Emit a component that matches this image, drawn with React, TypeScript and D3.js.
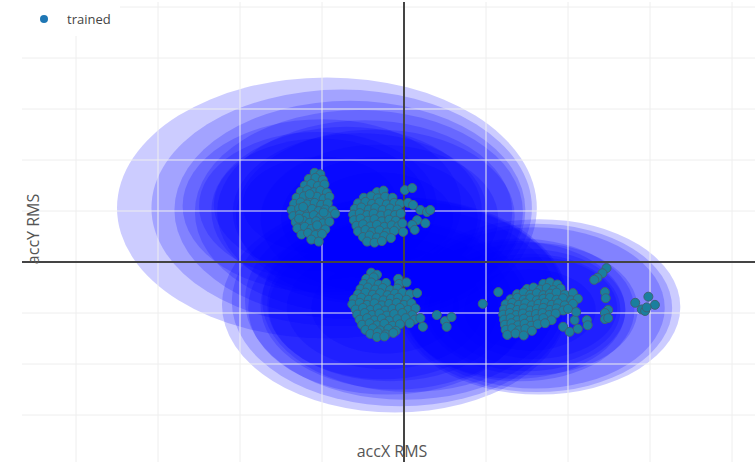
import React from "react";
import * as d3 from "d3";

const width = 755;
const height = 462;
const plotLeft = 22;
const plotTop = 2;

// grid ticks (no labels shown on the chart)
const xTicks = [-4, -3, -2, -1, 1, 2, 3, 4];
const yTicks = [-3, -2, -1, 1, 2, 3, 4, 5];

// k-means cluster centres and their max-distance radius
const clusterX = [-0.94, -0.76, -0.66, -0.55, -0.48, -0.54, -1.02, -0.3, -1.02, -0.3,
  -1.0, -0.35, -0.7, -1.05, -0.3,
  -0.11, -0.05, 0.01, 0.07, -0.17, -0.23, -0.23,
  -0.2, -0.1, -0.25,
  1.65, 1.62, 1.6, 1.41, 1.35, 1.54, 1.54,
  1.55, 1.5, 1.6];
const clusterY = [1.06, 1.06, 1.02, 0.98, 0.98, 0.98, 1.12, 0.86, 1.12, 0.86,
  1.1, 0.9, 1.0, 1.1, 0.85,
  -0.84, -0.78, -0.75, -0.75, -0.84, -0.9, -0.9,
  -0.9, -0.85, -0.9,
  -0.88, -0.9, -0.9, -0.94, -0.94, -0.94, -0.94,
  -0.92, -0.94, -0.9];
const clusterR = [2.56, 2.32, 2.14, 2.0, 1.8, 1.55, 1.3, 1.2, 0.95, 0.9,
  1.7, 1.7, 1.65, 1.45, 1.45,
  2.11, 2.05, 1.95, 1.8, 1.5, 1.2, 0.9,
  1.7, 1.65, 1.4,
  1.72, 1.65, 1.58, 1.4, 1.35, 1.1, 0.8,
  1.3, 1.2, 1.0];

// trained samples (accX RMS, accY RMS)
const trainedA = [
  [-1.09, 1.75], [-1.02, 1.72],
  [-1.16, 1.63], [-1.08, 1.65], [-0.99, 1.61],
  [-1.21, 1.5], [-1.13, 1.53], [-1.05, 1.49], [-0.97, 1.52],
  [-1.26, 1.38], [-1.18, 1.41], [-1.1, 1.37], [-1.02, 1.4], [-0.94, 1.36],
  [-1.31, 1.26], [-1.22, 1.29], [-1.14, 1.25], [-1.06, 1.28], [-0.98, 1.24], [-0.91, 1.28],
  [-1.34, 1.14], [-1.26, 1.17], [-1.18, 1.13], [-1.09, 1.16], [-1.01, 1.12], [-0.93, 1.15],
  [-1.37, 1.02], [-1.28, 1.05], [-1.2, 1.01], [-1.12, 1.04], [-1.04, 1.0], [-0.96, 1.03], [-0.87, 1.01],
  [-1.35, 0.9], [-1.27, 0.93], [-1.19, 0.89], [-1.1, 0.92], [-1.02, 0.88], [-0.94, 0.91], [-0.84, 0.95],
  [-1.32, 0.78], [-1.23, 0.81], [-1.15, 0.77], [-1.07, 0.8], [-0.99, 0.76], [-0.91, 0.79],
  [-1.3, 0.66], [-1.21, 0.69], [-1.13, 0.65], [-1.05, 0.68], [-0.96, 0.64],
  [-1.25, 0.54], [-1.17, 0.57], [-1.08, 0.53], [-1.0, 0.55],
  [-1.13, 0.44], [-1.04, 0.4],
  [-1.23, 1.08], [-1.06, 0.72], [-1.15, 1.33], [-0.98, 0.97], [-1.28, 0.85],
];
const trainedB = [
  [-0.33, 1.37], [-0.25, 1.4],
  [-0.49, 1.26], [-0.4, 1.29], [-0.32, 1.25], [-0.23, 1.28], [-0.14, 1.26],
  [-0.56, 1.15], [-0.47, 1.18], [-0.39, 1.14], [-0.3, 1.17], [-0.21, 1.13], [-0.12, 1.16], [-0.05, 1.14],
  [-0.6, 1.04], [-0.52, 1.07], [-0.43, 1.03], [-0.35, 1.06], [-0.26, 1.02], [-0.17, 1.05], [-0.08, 1.03],
  [-0.62, 0.93], [-0.54, 0.96], [-0.45, 0.92], [-0.37, 0.95], [-0.28, 0.91], [-0.19, 0.94], [-0.11, 0.92], [-0.04, 0.95],
  [-0.61, 0.82], [-0.53, 0.85], [-0.44, 0.81], [-0.36, 0.84], [-0.27, 0.8], [-0.18, 0.83], [-0.1, 0.81],
  [-0.58, 0.71], [-0.5, 0.74], [-0.41, 0.7], [-0.33, 0.73], [-0.24, 0.69], [-0.15, 0.72], [-0.07, 0.7],
  [-0.56, 0.6], [-0.47, 0.63], [-0.39, 0.59], [-0.3, 0.62], [-0.21, 0.58], [-0.12, 0.61],
  [-0.5, 0.49], [-0.42, 0.52], [-0.33, 0.48], [-0.24, 0.51], [-0.16, 0.47],
  [-0.45, 0.4], [-0.36, 0.38], [-0.27, 0.41],
  [0.01, 1.41], [0.1, 1.45], [0.05, 1.16], [0.11, 1.12], [0.2, 1.02], [0.28, 0.98], [0.32, 1.02],
  [0.16, 0.82], [0.26, 0.76], [0.1, 0.73], [0.13, 0.63], [-0.01, 0.59], [-0.02, 0.76],
];
const trainedC = [
  [-0.4, -0.21], [-0.33, -0.25],
  [-0.46, -0.33], [-0.37, -0.3], [-0.07, -0.33],
  [-0.49, -0.43], [-0.4, -0.4], [-0.31, -0.44], [-0.22, -0.41], [-0.06, -0.43], [0.03, -0.4],
  [-0.53, -0.53], [-0.44, -0.5], [-0.35, -0.54], [-0.26, -0.51], [-0.17, -0.55], [-0.08, -0.52],
  [-0.56, -0.63], [-0.47, -0.6], [-0.38, -0.64], [-0.29, -0.61], [-0.2, -0.65], [-0.11, -0.62], [-0.02, -0.6], [0.07, -0.63],
  [-0.61, -0.73], [-0.52, -0.7], [-0.43, -0.74], [-0.34, -0.71], [-0.25, -0.75], [-0.16, -0.72], [-0.07, -0.7], [0.03, -0.74],
  [-0.63, -0.83], [-0.54, -0.8], [-0.45, -0.84], [-0.36, -0.81], [-0.27, -0.85], [-0.18, -0.82], [-0.09, -0.8], [0.0, -0.84], [0.09, -0.81],
  [-0.59, -0.93], [-0.5, -0.9], [-0.41, -0.94], [-0.32, -0.91], [-0.23, -0.95], [-0.14, -0.92], [-0.05, -0.9], [0.05, -0.94], [0.14, -0.91],
  [-0.57, -1.03], [-0.48, -1.0], [-0.39, -1.04], [-0.3, -1.01], [-0.21, -1.05], [-0.12, -1.02], [-0.02, -1.0], [0.1, -1.04],
  [-0.54, -1.13], [-0.45, -1.1], [-0.36, -1.14], [-0.27, -1.11], [-0.18, -1.15], [-0.08, -1.12], [0.02, -1.1], [0.13, -1.13],
  [-0.51, -1.23], [-0.42, -1.2], [-0.33, -1.24], [-0.24, -1.21], [-0.14, -1.25], [-0.05, -1.22], [0.07, -1.2],
  [-0.47, -1.33], [-0.38, -1.3], [-0.29, -1.34], [-0.19, -1.31], [-0.1, -1.35],
  [-0.41, -1.41], [-0.32, -1.38], [-0.22, -1.42], [-0.13, -1.39],
  [-0.33, -1.47], [-0.24, -1.46],
  [0.16, -0.61], [0.2, -1.1], [0.23, -1.27], [0.4, -1.04], [0.5, -1.16], [0.58, -1.08], [0.52, -1.27],
];
const trainedD = [
  [1.7, -0.43], [1.78, -0.4], [1.87, -0.44],
  [1.5, -0.53], [1.58, -0.5], [1.66, -0.54], [1.74, -0.51], [1.82, -0.55], [1.91, -0.52],
  [1.38, -0.63], [1.46, -0.6], [1.54, -0.64], [1.62, -0.61], [1.7, -0.65], [1.78, -0.62], [1.86, -0.6], [1.96, -0.64], [2.06, -0.61],
  [1.3, -0.73], [1.38, -0.7], [1.46, -0.74], [1.54, -0.71], [1.62, -0.75], [1.7, -0.72], [1.78, -0.7], [1.86, -0.74], [1.94, -0.71], [2.04, -0.75], [2.12, -0.72],
  [1.24, -0.83], [1.32, -0.8], [1.4, -0.84], [1.48, -0.81], [1.56, -0.85], [1.64, -0.82], [1.72, -0.8], [1.8, -0.84], [1.88, -0.81], [1.96, -0.85], [2.06, -0.82],
  [1.22, -0.93], [1.3, -0.9], [1.38, -0.94], [1.46, -0.91], [1.54, -0.95], [1.62, -0.92], [1.7, -0.9], [1.78, -0.94], [1.86, -0.91], [1.94, -0.95],
  [1.21, -1.03], [1.29, -1.0], [1.37, -1.04], [1.45, -1.01], [1.53, -1.05], [1.61, -1.02], [1.69, -1.0], [1.77, -1.04], [1.85, -1.01],
  [1.22, -1.13], [1.3, -1.1], [1.38, -1.14], [1.46, -1.11], [1.54, -1.15], [1.62, -1.12], [1.7, -1.1], [1.8, -1.14],
  [1.23, -1.23], [1.31, -1.2], [1.39, -1.24], [1.47, -1.21], [1.55, -1.25], [1.63, -1.22], [1.72, -1.2],
  [1.24, -1.33], [1.32, -1.3], [1.4, -1.34], [1.48, -1.31], [1.56, -1.35],
  [1.26, -1.43], [1.36, -1.4], [1.46, -1.44],
  [1.15, -0.59], [0.96, -0.82], [1.94, -1.27], [2.02, -1.37], [2.12, -1.31], [2.23, -1.14], [2.24, -1.24], [2.08, -1.14],
  [2.47, -0.12], [2.42, -0.22], [2.36, -0.31], [2.32, -0.35], [2.45, -0.59], [2.46, -0.71],
  [2.49, -0.94], [2.45, -1.0], [2.45, -1.12], [2.49, -1.1], [2.0, -0.92], [2.1, -0.98],
];
const trainedE = [
  [2.82, -0.8], [2.98, -0.68], [3.06, -0.84], [2.9, -0.93], [2.94, -0.96], [2.96, -0.89],
];

const trained = [...trainedA, ...trainedB, ...trainedC, ...trainedD, ...trainedE];

const x = d3.scaleLinear().domain([-4, 4]).range([76, 732]);
const y = d3.scaleLinear().domain([-3, 5]).range([415, 7]);

const font = "'Open Sans', sans-serif";

export default function App() {
  const rx = (r: number) => x(r) - x(0);
  const ry = (r: number) => y(0) - y(r);

  return (
    <svg
      width={width}
      height={height}
      style={{ position: "absolute", left: 0, top: 0, background: "#fff" }}
    >
      {/* cluster areas */}
      <g>
        {clusterR.map((r, i) => (
          <ellipse
            key={i}
            cx={x(clusterX[i])}
            cy={y(clusterY[i])}
            rx={rx(r)}
            ry={ry(r)}
            fill="rgb(0,0,255)"
            fillOpacity={0.2}
          />
        ))}
      </g>

      {/* grid */}
      <g stroke="#eee" strokeWidth={1}>
        {xTicks.map((t) => (
          <line key={"x" + t} x1={x(t)} x2={x(t)} y1={plotTop} y2={height} />
        ))}
        {yTicks.map((t) => (
          <line key={"y" + t} x1={plotLeft} x2={width} y1={y(t)} y2={y(t)} />
        ))}
      </g>

      {/* zero lines */}
      <g stroke="#444" strokeWidth={2}>
        <line x1={x(0)} x2={x(0)} y1={plotTop} y2={height} />
        <line x1={plotLeft} x2={width} y1={y(0)} y2={y(0)} />
      </g>

      {/* trained points */}
      <g fill="#1a7f9e" stroke="#3d6275" strokeWidth={1}>
        {trained.map((d, i) => (
          <circle key={i} cx={x(d[0])} cy={y(d[1])} r={4.5} />
        ))}
      </g>

      {/* axis titles */}
      <text
        x={392}
        y={457}
        textAnchor="middle"
        fontFamily={font}
        fontSize={16}
        fill="#555"
      >
        accX RMS
      </text>
      <text
        transform="translate(39,229) rotate(-90)"
        textAnchor="middle"
        fontFamily={font}
        fontSize={16}
        fill="#555"
      >
        accY RMS
      </text>

      {/* legend */}
      <rect x={0} y={0} width={120} height={36} fill="#fff" />
      <circle cx={44} cy={19} r={4} fill="#1f77b4" />
      <text x={67} y={24} fontFamily={font} fontSize={13} fill="#444">
        trained
      </text>
    </svg>
  );
}
